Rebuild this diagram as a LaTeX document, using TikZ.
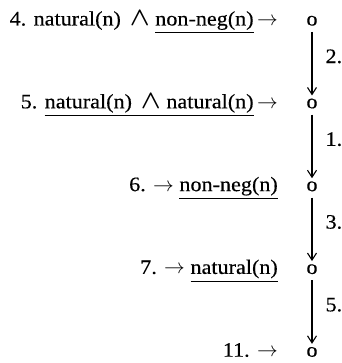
\documentclass[tikz,border=0pt]{standalone}
\usepackage{amsmath}
\usepackage{fontspec}
\usepackage{graphicx}
\setmainfont{Liberation Serif}[FakeStretch=1.08, FakeBold=0.35]
\usetikzlibrary{arrows.meta}
\newcommand{\andsym}{\,\scalebox{1.25}{$\boldsymbol{\wedge}$}}
\begin{document}
\begin{tikzpicture}[x=1pt,y=-1pt,
  txt/.style={inner sep=0pt, anchor=base east, font=\fontsize{20.5}{24}\selectfont},
  dot/.style={inner sep=0pt, anchor=base, font=\fontsize{20.5}{24}\selectfont},
  lbl/.style={inner sep=0pt, anchor=west, font=\fontsize{20.5}{24}\selectfont},
  flow/.style={line width=1.1pt, -{Straight Barb[length=7pt,width=9pt]}, shorten <=6pt, shorten >=3pt}]
\useasboundingbox (0,0) rectangle (341,363);
\node[txt] (l1) at (278,25.5) {4. natural(n) \andsym{} \underline{non-neg(n)}\,$\rightarrow$};
\node[txt] (l2) at (278,108.3) {5. \underline{natural(n) \andsym{} natural(n)}\,$\rightarrow$};
\node[txt] (l3) at (278,191.1) {6. $\rightarrow$ \underline{non-neg(n)}};
\node[txt] (l4) at (278,273.9) {7. $\rightarrow$ \underline{natural(n)}};
\node[txt] (l5) at (278,356.7) {11. $\rightarrow$};
\node[dot] (o1) at (312,25.5) {o};
\node[dot] (o2) at (312,108.3) {o};
\node[dot] (o3) at (312,191.1) {o};
\node[dot] (o4) at (312,273.9) {o};
\node[dot] (o5) at (312,356.7) {o};
\draw[flow] (o1.south) -- (o2.north) node[lbl, pos=0.42, xshift=13pt] {2.};
\draw[flow] (o2.south) -- (o3.north) node[lbl, pos=0.42, xshift=13pt] {1.};
\draw[flow] (o3.south) -- (o4.north) node[lbl, pos=0.42, xshift=13pt] {3.};
\draw[flow] (o4.south) -- (o5.north) node[lbl, pos=0.42, xshift=13pt] {5.};
\end{tikzpicture}
\end{document}
